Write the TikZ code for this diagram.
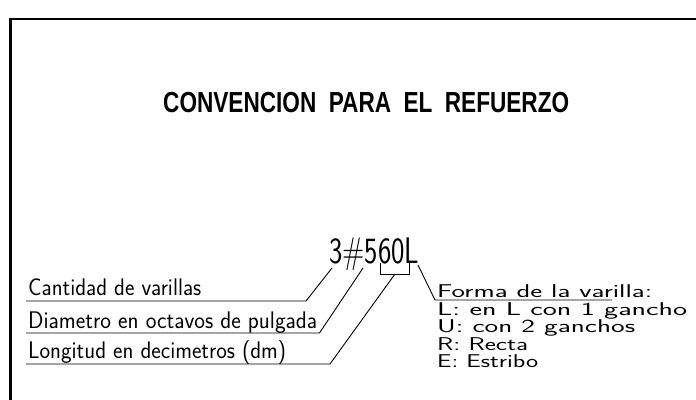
\documentclass[tikz,border=0pt]{standalone}
\usepackage{fontspec}
\usepackage{graphicx}
\newfontfamily\titlefont{Liberation Sans}
\newcommand\fitw[2]{\resizebox{#1pt}{\height}{#2}}
\newcommand\wsp{\hspace{0.55em}}
\begin{document}
\begin{tikzpicture}[x=1pt,y=-1pt,
  txt/.style={inner sep=0pt, anchor=base west},
  small/.style={txt, font=\sffamily\fontsize{24}{24}\selectfont},
  list/.style={txt, font=\sffamily\fontsize{18.5}{18.5}\selectfont},
  lead/.style={line width=0.9pt, line join=miter},
  frame/.style={line width=2.6pt}]
\useasboundingbox (0,0) rectangle (696,399);
% frame
\coordinate (fr1) at (700,19);
\coordinate (fr2) at (10.5,19);
\coordinate (fr3) at (10.5,403);
\draw[frame] (fr1) -- (fr2) -- (fr3);
% title
\node[txt, font=\titlefont\bfseries\fontsize{29}{29}\selectfont] (title) at (163,112.5) {\fitw{406}{CONVENCION\wsp PARA\wsp EL\wsp REFUERZO}};
% code
\node[txt, font=\sffamily\fontsize{37}{37}\selectfont] (code) at (329,263) {\fitw{90}{3\#560L}};
% left labels
\node[small] (lab1) at (28,295) {\fitw{173}{Cantidad\ de\ varillas}};
\node[small] (lab2) at (28,328) {\fitw{289}{Diametro\ en\ octavos\ de\ pulgada}};
\node[small] (lab3) at (28,358) {\fitw{258}{Longitud\ en\ decimetros\ (dm)}};
% right list
\node[list] (forma) at (437,297) {\fitw{215}{Forma\ de\ la\ varilla:}};
\node[list] (fl) at (437,315) {\fitw{250}{L:\ en\ L\ con\ 1\ gancho}};
\node[list] (fu) at (437,332.5) {\fitw{198}{U:\ con\ 2\ ganchos}};
\node[list] (fr) at (437,350) {\fitw{91}{R:\ Recta}};
\node[list] (fe) at (437,367.5) {\fitw{101}{E:\ Estribo}};
% leader points
\coordinate (b1) at (306,301);
\coordinate (t1) at (332,268);
\coordinate (b2) at (319.5,333);
\coordinate (t2) at (363,268);
\coordinate (b3) at (330,364);
\coordinate (t3) at (395,274);
\coordinate (bl) at (380,263);
\coordinate (bll) at (380,274);
\coordinate (brl) at (409,274);
\coordinate (br) at (409,263);
\coordinate (tL) at (418,265);
\coordinate (bL) at (435,300);
\coordinate (eL) at (612,300);
% leaders
\draw[lead] ([xshift=-2pt,yshift=-6pt]lab1.base west) -- (b1) -- (t1);
\draw[lead] ([xshift=-2pt,yshift=-5pt]lab2.base west) -- (b2) -- (t2);
\draw[lead] ([xshift=-2pt,yshift=-6pt]lab3.base west) -- (b3) -- (t3);
\draw[lead] (bl) -- (bll) -- (brl) -- (br);
\draw[lead] (tL) -- (bL) -- (eL);
\end{tikzpicture}
\end{document}
